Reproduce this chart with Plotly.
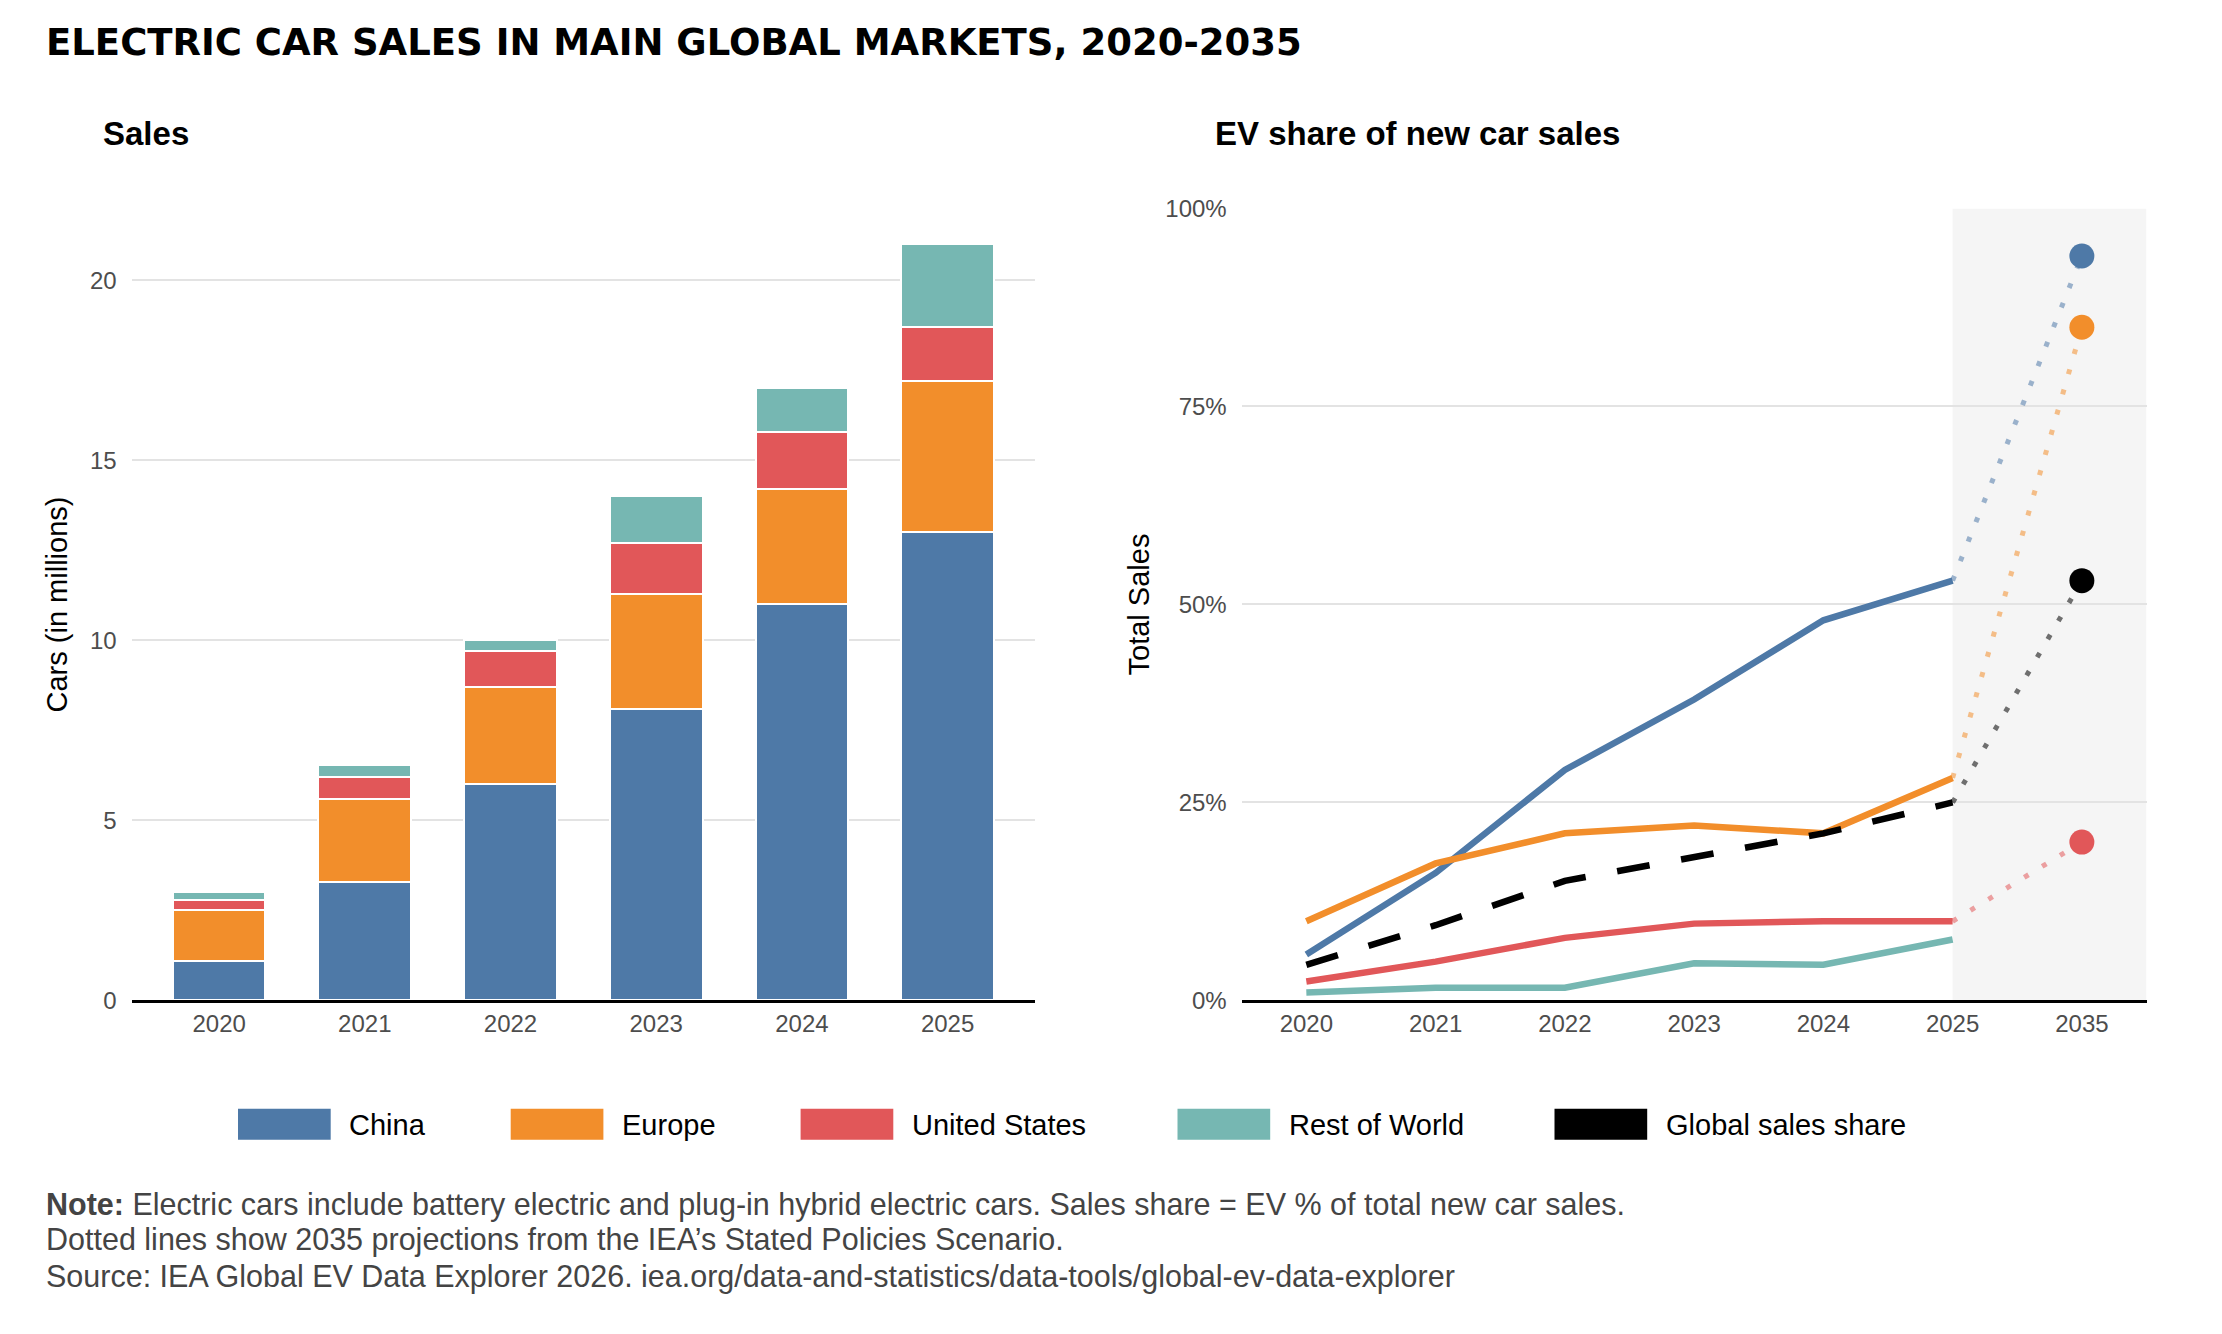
import plotly.graph_objects as go

W, H = 2222, 1334

# ---------------- data ----------------
years = ["2020", "2021", "2022", "2023", "2024", "2025"]
china_sales = [1.1, 3.3, 6.0, 8.1, 11.0, 13.0]
europe_sales = [1.4, 2.3, 2.7, 3.2, 3.2, 4.2]
us_sales = [0.3, 0.6, 1.0, 1.4, 1.6, 1.5]
row_sales = [0.2, 0.35, 0.3, 1.3, 1.2, 2.3]

share_years = ["2020", "2021", "2022", "2023", "2024", "2025"]
china_share = [5.8, 16.1, 29.1, 38.0, 48.0, 53.0]
europe_share = [10.0, 17.3, 21.1, 22.1, 21.1, 28.1]
us_share = [2.4, 4.9, 7.9, 9.7, 10.0, 10.0]
row_share = [1.0, 1.6, 1.6, 4.7, 4.5, 7.7]
global_share = [4.5, 9.5, 15.1, 18.2, 21.1, 25.0]

proj_year = "2035"
china_2035 = 94
europe_2035 = 85
us_2035 = 20
global_2035 = 53

share_categories = share_years + [proj_year]
left_ticks = [0, 5, 10, 15, 20]
right_ticks = [0, 25, 50, 75, 100]
right_ticklabels = ["0%", "25%", "50%", "75%", "100%"]

legend_names = ["China", "Europe", "United States", "Rest of World", "Global sales share"]

# ---------------- style ----------------
C_CHINA = "#4e79a7"
C_EUROPE = "#f28e2b"
C_US = "#e15759"
C_ROW = "#76b7b2"
C_GLOBAL = "#000000"
legend_colors = [C_CHINA, C_EUROPE, C_US, C_ROW, C_GLOBAL]
FONT = "Liberation Sans"
TICK_COLOR = "#4d4d4d"
GRID = "#e3e3e3"

# vertical calibration (observed rendering offset/scale)
S_Y, T_Y = 0.981, 12.8


def px(x):
    return x / W


def py(y):
    return 1 - ((y - T_Y) / S_Y) / H


def fade(hex_color, a):
    h = hex_color.lstrip("#")
    r, g, b = int(h[0:2], 16), int(h[2:4], 16), int(h[4:6], 16)
    return f"rgba({r},{g},{b},{a})"


fig = go.Figure()

# ---------------- left: stacked bars ----------------
for name, vals, col in [("China", china_sales, C_CHINA), ("Europe", europe_sales, C_EUROPE),
                        ("United States", us_sales, C_US), ("Rest of World", row_sales, C_ROW)]:
    fig.add_trace(go.Bar(x=years, y=vals, name=name, marker=dict(color=col, line=dict(color="white", width=2)),
                         xaxis="x", yaxis="y", showlegend=False))

# ---------------- right: share lines ----------------
for name, vals, col in [("Rest of World", row_share, C_ROW), ("United States", us_share, C_US),
                        ("China", china_share, C_CHINA), ("Europe", europe_share, C_EUROPE)]:
    fig.add_trace(go.Scatter(x=share_years, y=vals, mode="lines", name=name,
                             line=dict(color=col, width=6.5), xaxis="x2", yaxis="y2", showlegend=False))

fig.add_trace(go.Scatter(x=share_years, y=global_share, mode="lines", name="Global sales share",
                         line=dict(color=C_GLOBAL, width=6.5, dash="33px,32px"),
                         xaxis="x2", yaxis="y2", showlegend=False))

# projections (dotted) + 2035 markers
for last, proj, col in [(china_share[-1], china_2035, C_CHINA), (europe_share[-1], europe_2035, C_EUROPE),
                        (us_share[-1], us_2035, C_US), (global_share[-1], global_2035, C_GLOBAL)]:
    fig.add_trace(go.Scatter(x=[share_years[-1], proj_year], y=[last, proj], mode="lines",
                             line=dict(color=fade(col, 0.55), width=5, dash="5px,16px"),
                             xaxis="x2", yaxis="y2", showlegend=False))
for proj, col in [(china_2035, C_CHINA), (europe_2035, C_EUROPE), (us_2035, C_US), (global_2035, C_GLOBAL)]:
    fig.add_trace(go.Scatter(x=[proj_year], y=[proj], mode="markers",
                             marker=dict(color=col, size=25, line=dict(width=0)),
                             xaxis="x2", yaxis="y2", showlegend=False))

# ---------------- layout ----------------
ydom = [py(1000.5), py(207.5)]
axis_common = dict(showgrid=False, showline=True, linecolor="black", linewidth=3, ticks="",
                   tickfont=dict(family=FONT, size=24, color=TICK_COLOR), ticklabelstandoff=0)
yaxis_common = dict(showgrid=True, gridcolor=GRID, gridwidth=2, zeroline=False, showline=False, ticks="",
                    tickfont=dict(family=FONT, size=24, color=TICK_COLOR), ticklabelstandoff=14)

fig.update_layout(
    width=W, height=H,
    margin=dict(l=0, r=0, t=0, b=0),
    paper_bgcolor="white", plot_bgcolor="rgba(0,0,0,0)",
    barmode="stack", bargap=0.364,
    showlegend=False,
    xaxis=dict(domain=[px(131.7), px(1035)], type="category", range=[-0.6, 5.6], anchor="y", **axis_common),
    yaxis=dict(domain=ydom, range=[0, 22], tickvals=left_ticks, anchor="x", **yaxis_common),
    xaxis2=dict(domain=[px(1241.7), px(2146.5)], type="category", categoryorder="array",
                categoryarray=share_categories, range=[-0.5, 6.5], anchor="y2", **axis_common),
    yaxis2=dict(domain=ydom, range=[0, 100], tickvals=right_ticks, ticktext=right_ticklabels,
                anchor="x2", **yaxis_common),
)

shapes = [dict(type="rect", xref="x2", yref="y2", x0=5, x1=6.5, y0=0, y1=100,
               fillcolor="#f5f5f5", line=dict(width=0), layer="below")]

# legend (manual, large swatches)
legend_box_left = [238, 510.7, 800.6, 1177.5, 1554.5]
annotations = []
for name, col, bx in zip(legend_names, legend_colors, legend_box_left):
    shapes.append(dict(type="rect", xref="paper", yref="paper", x0=px(bx), x1=px(bx + 92.7),
                       y0=py(1140), y1=py(1109), fillcolor=col, line=dict(width=0)))
    annotations.append(dict(text=name, x=px(bx + 109), y=py(1125), xref="paper", yref="paper",
                            xanchor="left", yanchor="middle", showarrow=False,
                            font=dict(family=FONT, size=29, color="black")))

annotations += [
    dict(text="<b>ELECTRIC CAR SALES IN MAIN GLOBAL MARKETS, 2020-2035</b>", x=px(44), y=py(41),
         xref="paper", yref="paper", xanchor="left", yanchor="middle", showarrow=False,
         font=dict(family="DejaVu Sans", size=37, color="black")),
    dict(text="<b>Sales</b>", x=px(101), y=py(132), xref="paper", yref="paper", xanchor="left",
         yanchor="middle", showarrow=False, font=dict(family=FONT, size=33, color="black")),
    dict(text="<b>EV share of new car sales</b>", x=px(1213), y=py(132), xref="paper", yref="paper",
         xanchor="left", yanchor="middle", showarrow=False, font=dict(family=FONT, size=33, color="black")),
    dict(text="Cars (in millions)", x=px(57), y=py(604), xref="paper", yref="paper", textangle=-90,
         xanchor="center", yanchor="middle", showarrow=False, font=dict(family=FONT, size=29, color="black")),
    dict(text="Total Sales", x=px(1139), y=py(604), xref="paper", yref="paper", textangle=-90,
         xanchor="center", yanchor="middle", showarrow=False, font=dict(family=FONT, size=29, color="black")),
]

note_lines = [
    "<b>Note:</b> Electric cars include battery electric and plug-in hybrid electric cars. Sales share = EV % of total new car sales.",
    "Dotted lines show 2035 projections from the IEA\u2019s Stated Policies Scenario.",
    "Source: IEA Global EV Data Explorer 2026. iea.org/data-and-statistics/data-tools/global-ev-data-explorer",
]
for line, yc in zip(note_lines, [1204.5, 1240, 1277]):
    annotations.append(dict(text=line, x=px(44), y=py(yc), xref="paper", yref="paper", xanchor="left",
                            yanchor="middle", showarrow=False, font=dict(family=FONT, size=30.5, color="#444444")))

fig.update_layout(shapes=shapes, annotations=annotations)

fig.write_html("out.html")
